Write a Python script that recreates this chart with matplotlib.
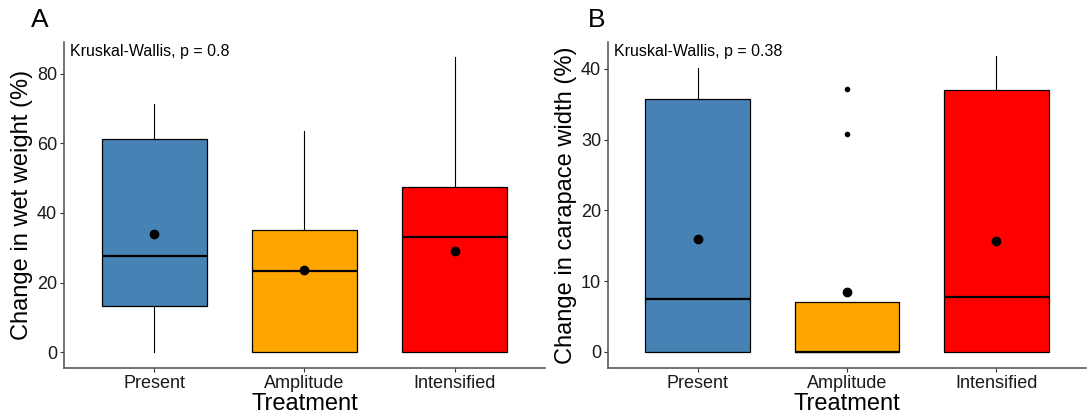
import matplotlib
matplotlib.use("Agg")
import matplotlib.pyplot as plt

plt.rcParams['font.family'] = ['Liberation Sans', 'DejaVu Sans']

categories = ["Present", "Amplitude", "Intensified"]
colors = ["#4682B4", "#FFA500", "#FF0000"]

# Panel A: change in wet weight (%)
a_whislo = [0.0, 0.0, 0.0]
a_q1 = [13.2, 0.0, 0.0]
a_med = [27.6, 23.3, 33.1]
a_q3 = [61.3, 35.1, 47.5]
a_whishi = [71.4, 63.6, 84.9]
a_mean = [34.0, 23.6, 29.1]
a_fliers = [[], [], []]

# Panel B: change in carapace width (%)
b_whislo = [0.0, 0.0, 0.0]
b_q1 = [0.0, 0.0, 0.0]
b_med = [7.4, 0.0, 7.7]
b_q3 = [35.7, 7.1, 37.0]
b_whishi = [40.1, 7.1, 41.8]
b_mean = [16.0, 8.4, 15.7]
b_fliers = [[], [30.8, 37.2], []]

fig = plt.figure(figsize=(10.88, 4.16), dpi=100)
axA = fig.add_axes([64/1088, 48/416, (545-64)/1088, (368-42)/416])
axB = fig.add_axes([608/1088, 48/416, (1086-608)/1088, (368-42)/416])


def draw(ax, whislo, q1, med, q3, whishi, mean, fliers, ylabel, ylim, yticks, ptext):
    stats = []
    for i, c in enumerate(categories):
        stats.append(dict(label=c, whislo=whislo[i], q1=q1[i], med=med[i],
                          q3=q3[i], whishi=whishi[i], fliers=fliers[i], mean=mean[i]))
    pos = [1, 2, 3]
    bp = ax.bxp(stats, positions=pos, widths=0.7, patch_artist=True,
                showmeans=False, showcaps=False,
                boxprops=dict(edgecolor="black", linewidth=0.9),
                medianprops=dict(color="black", linewidth=1.6),
                whiskerprops=dict(color="black", linewidth=0.8),
                flierprops=dict(marker="o", markerfacecolor="black",
                                markeredgecolor="black", markersize=3),
                manage_ticks=False, zorder=2)
    for patch, col in zip(bp["boxes"], colors):
        patch.set_facecolor(col)
    ax.plot(pos, mean, linestyle="none", marker="o", color="black",
            markersize=6, zorder=4)
    ax.set_xlim(0.4, 3.6)
    ax.set_ylim(*ylim)
    ax.set_xticks(pos)
    ax.set_xticklabels(categories)
    ax.set_yticks(yticks)
    ax.tick_params(axis="both", labelsize=13, colors="#333333", length=3,
                   width=0.8, labelcolor="#1a1a1a", pad=2)
    for s in ["top", "right"]:
        ax.spines[s].set_visible(False)
    for s in ["left", "bottom"]:
        ax.spines[s].set_color("#4d4d4d")
        ax.spines[s].set_linewidth(1.1)
    ax.set_ylabel(ylabel, fontsize=17, labelpad=3)
    ax.set_xlabel("Treatment", fontsize=17, labelpad=1)
    ax.text(0.012, 0.97, ptext, transform=ax.transAxes, fontsize=11.5,
            ha="left", va="center")


draw(axA, a_whislo, a_q1, a_med, a_q3, a_whishi, a_mean, a_fliers,
     "Change in wet weight (%)", (-4.6, 89.2), [0, 20, 40, 60, 80],
     "Kruskal-Wallis, p = 0.8")
draw(axB, b_whislo, b_q1, b_med, b_q3, b_whishi, b_mean, b_fliers,
     "Change in carapace width (%)", (-2.3, 43.8), [0, 10, 20, 30, 40],
     "Kruskal-Wallis, p = 0.38")

fig.text(40/1088, 1 - 20/416, "A", fontsize=19, ha="center", va="center")
fig.text(597/1088, 1 - 20/416, "B", fontsize=19, ha="center", va="center")

fig.savefig("out.png", dpi=100)
